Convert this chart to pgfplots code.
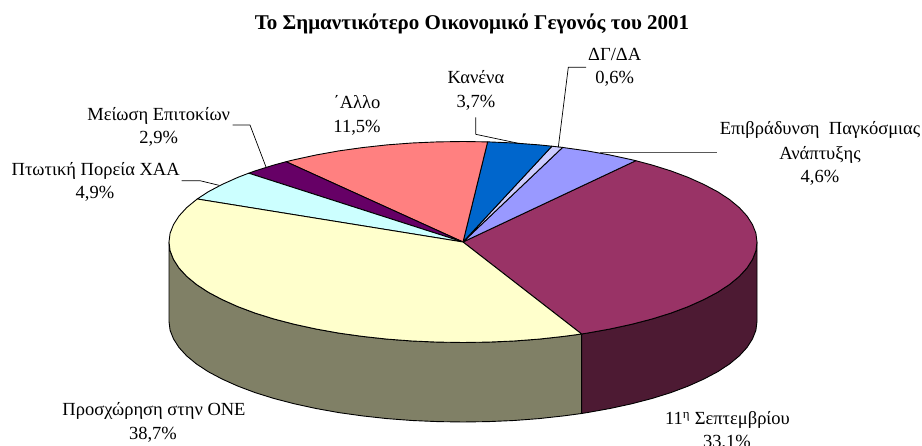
\documentclass[border=0pt]{standalone}
\usepackage{pgfplots}
\usepackage{fontspec}
\setmainfont{Liberation Serif}
\pgfplotsset{compat=1.18}
\definecolor{cYel}{HTML}{FFFFCC}
\definecolor{cOli}{HTML}{808066}
\definecolor{cMar}{HTML}{993366}
\definecolor{cDrk}{HTML}{4D1A33}
\definecolor{cPer}{HTML}{9999FF}
\definecolor{cLav}{HTML}{CCCCFF}
\definecolor{cBlu}{HTML}{0066CC}
\definecolor{cRed}{HTML}{FF8080}
\definecolor{cPur}{HTML}{660066}
\definecolor{cCya}{HTML}{CCFFFF}
\newcommand{\lab}[3]{\node[anchor=base,inner sep=0pt,font=\fontsize{18.5}{21}\selectfont] at (axis cs:#1,#2) {#3};}
\begin{document}
\begin{tikzpicture}
\begin{axis}[at={(0pt,0pt)},anchor=south west,hide axis,scale only axis,width=922pt,height=446pt,
  xmin=0,xmax=922,ymin=0,ymax=446,y dir=reverse,clip=false,enlargelimits=false,
  every axis plot/.append style={draw=black,line width=0.9pt,line join=round,mark=none,sharp plot}]
% side walls
\addplot[fill=cOli] coordinates {(169,242)(170.1,250.8)(173.5,259.4)(179,268)(186.7,276.4)(196.5,284.5)(208.4,292.3)(222.2,299.6)(237.8,306.6)(255.1,313.1)(274,319)(294.4,324.3)(316,329)(338.8,333.1)(362.4,336.4)(386.9,339.1)(412,341)(437.4,342.1)(463,342.5)(488.6,342.1)(514,341)(539.1,339.1)(563.6,336.4)(581.6,334)(581.6,413.5)(563.6,415.9)(539.1,418.6)(514,420.5)(488.6,421.6)(463,422)(437.4,421.6)(412,420.5)(386.9,418.6)(362.4,415.9)(338.8,412.6)(316,408.5)(294.4,403.8)(274,398.5)(255.1,392.6)(237.8,386.1)(222.2,379.1)(208.4,371.8)(196.5,364)(186.7,355.9)(179,347.5)(173.5,338.9)(170.1,330.3)(169,321.5)(169,242)};
\addplot[fill=cDrk] coordinates {(581.6,334)(587.2,333.1)(610,329)(631.6,324.3)(652,319)(670.9,313.1)(688.2,306.6)(703.8,299.6)(717.6,292.3)(729.5,284.5)(739.3,276.4)(747,268)(752.5,259.4)(755.9,250.8)(757,242)(757,321.5)(755.9,330.3)(752.5,338.9)(747,347.5)(739.3,355.9)(729.5,364)(717.6,371.8)(703.8,379.1)(688.2,386.1)(670.9,392.6)(652,398.5)(631.6,403.8)(610,408.5)(587.2,412.6)(581.6,413.5)(581.6,334)};
% top slices
\addplot[fill=cMar] coordinates {(463,242)(581.6,334)(587.2,333.1)(610,329)(631.6,324.3)(652,319)(670.9,313.1)(688.2,306.6)(703.8,299.6)(717.6,292.3)(729.5,284.5)(739.3,276.4)(747,268)(752.5,259.4)(755.9,250.8)(757,242)(755.9,233.2)(752.5,224.6)(747,216)(739.3,207.6)(729.5,199.5)(717.6,191.7)(703.8,184.4)(688.2,177.4)(670.9,170.9)(652,165)(635.8,160.7)(463,242)};
\addplot[fill=cPer] coordinates {(463,242)(635.8,160.7)(631.6,159.7)(610,155)(587.2,150.9)(563.6,147.6)(562.6,147.4)(463,242)};
\addplot[fill=cLav] coordinates {(463,242)(562.6,147.4)(551.9,146.2)(463,242)};
\addplot[fill=cBlu] coordinates {(463,242)(551.9,146.2)(539.1,144.9)(514,143)(488.6,141.9)(487.6,141.9)(463,242)};
\addplot[fill=cRed] coordinates {(463,242)(487.6,141.9)(463,141.5)(437.4,141.9)(412,143)(386.9,144.9)(362.4,147.6)(338.8,150.9)(316,155)(294.4,159.7)(286.1,161.7)(463,242)};
\addplot[fill=cPur] coordinates {(463,242)(286.1,161.7)(274,165)(255.1,170.9)(248.7,173.2)(463,242)};
\addplot[fill=cCya] coordinates {(463,242)(248.7,173.2)(237.8,177.4)(222.2,184.4)(208.4,191.7)(197.2,199)(463,242)};
\addplot[fill=cYel] coordinates {(463,242)(197.2,199)(186.7,207.6)(179,216)(173.5,224.6)(170.1,233.2)(169,242)(170.1,250.8)(173.5,259.4)(179,268)(186.7,276.4)(196.5,284.5)(208.4,292.3)(222.2,299.6)(237.8,306.6)(255.1,313.1)(274,319)(294.4,324.3)(316,329)(338.8,333.1)(362.4,336.4)(386.9,339.1)(412,341)(437.4,342.1)(463,342.5)(488.6,342.1)(514,341)(539.1,339.1)(563.6,336.4)(581.6,334)(463,242)};
% leader lines
\addplot[line width=0.7pt] coordinates {(475.7,117.3)(475.7,134.3)(518.3,143.3)};
\addplot[line width=0.7pt] coordinates {(586,67.3)(568.3,67.3)(558.3,147.3)};
\addplot[line width=0.7pt,draw=black!65] coordinates {(716.7,152.7)(600,152.7)};
\addplot[line width=0.7pt] coordinates {(232.7,125)(250,125)(266,167)};
\addplot[line width=0.7pt] coordinates {(181.7,180.7)(200,180.7)(219,185.3)};
% labels
\node[anchor=base,inner sep=0pt,font=\fontsize{21}{24}\selectfont\bfseries] at (axis cs:472,30) {Το Σημαντικότερο Οικονομικό Γεγονός του 2001};
\lab{476}{83.3}{Κανένα}
\lab{476}{107.5}{3,7\%}
\lab{357}{109}{΄Αλλο}
\lab{357}{132.3}{11,5\%}
\lab{158.7}{120.7}{Μείωση Επιτοκίων}
\lab{158.7}{143.3}{2,9\%}
\lab{95.7}{176}{Πτωτική Πορεία ΧΑΑ}
\lab{95}{199}{4,9\%}
\lab{614.7}{61}{ΔΓ/ΔΑ}
\lab{614.7}{84}{0,6\%}
\lab{820}{135}{Επιβράδυνση\ \ Παγκόσμιας}
\lab{820}{159.3}{Ανάπτυξης}
\lab{820}{182.3}{4,6\%}
\lab{154}{416}{Προσχώρηση στην ΟΝΕ}
\lab{153}{439.3}{38,7\%}
\lab{727.5}{424.3}{11\textsuperscript{η} Σεπτεμβρίου}
\lab{727}{447.5}{33,1\%}
\end{axis}
\pgfresetboundingbox
\path[use as bounding box] (0pt,0pt) rectangle (922pt,446pt);
\end{tikzpicture}
\end{document}
